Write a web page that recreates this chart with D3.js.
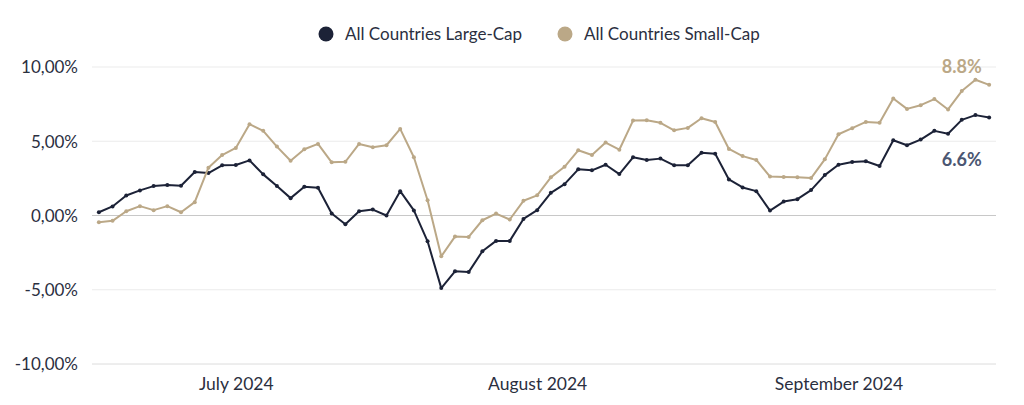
<!DOCTYPE html>
<html>
<head>
<meta charset="utf-8">
<script src="https://cdn.jsdelivr.net/npm/d3@7"></script>
<style>
  body { margin: 0; background: #fff; }
  svg text { font-family: Lato, "Open Sans", sans-serif; }
</style>
</head>
<body>
<div id="chart"></div>
<script>
// business days Jul 1 - Sep 30 2024
var dates = d3.timeDays(new Date(2024, 6, 1), new Date(2024, 9, 1))
    .filter(function(d){ return d.getDay() != 0 && d.getDay() != 6 })

var largeCap = [0.22, 0.61, 1.35, 1.69, 1.98, 2.05, 2.0, 2.93, 2.86, 3.38, 3.4, 3.71, 2.77, 1.98, 1.17, 1.93,
    1.87, 0.13, -0.59, 0.29, 0.4, 0.0, 1.64, 0.34, -1.74, -4.89, -3.76, -3.81, -2.41, -1.71, -1.71, -0.23,
    0.36, 1.53, 2.11, 3.11, 3.04, 3.42, 2.79, 3.92, 3.74, 3.83, 3.38, 3.38, 4.23, 4.16, 2.43, 1.89,
    1.64, 0.33, 0.94, 1.1, 1.71, 2.72, 3.42, 3.6, 3.65, 3.33, 5.07, 4.73, 5.11, 5.7, 5.51, 6.44, 6.76, 6.6]

var smallCap = [-0.45, -0.36, 0.29, 0.63, 0.36, 0.63, 0.22, 0.9, 3.22, 4.07, 4.55, 6.15, 5.7, 4.64, 3.69, 4.46,
    4.82, 3.58, 3.62, 4.82, 4.59, 4.73, 5.83, 3.92, 1.03, -2.75, -1.42, -1.44, -0.32, 0.13, -0.27, 0.99,
    1.36, 2.57, 3.28, 4.39, 4.07, 4.91, 4.43, 6.39, 6.42, 6.24, 5.74, 5.9, 6.55, 6.3, 4.48, 4.0,
    3.74, 2.62, 2.59, 2.57, 2.52, 3.78, 5.47, 5.88, 6.3, 6.24, 7.88, 7.18, 7.43, 7.84, 7.14, 8.38, 9.14, 8.8]

var yTicks = [-10, -5, 0, 5, 10]
var monthLabels = ["July 2024", "August 2024", "September 2024"]
var monthTickIdx = [10, 32, 54]

var series = [
    {name: "All Countries Large-Cap", values: largeCap, color: "#1c2237", labelColor: "#4b5672", label: "6.6%"},
    {name: "All Countries Small-Cap", values: smallCap, color: "#bba887", labelColor: "#bba887", label: "8.8%"}
]

var W = 1024, H = 405
var margin = {top: 67, right: 28, bottom: 41, left: 92}
var width = W - margin.left - margin.right
var height = H - margin.top - margin.bottom

var svg = d3.select("#chart").append("svg")
    .attr("width", W)
    .attr("height", H)

var g = svg.append("g")
    .attr("transform", "translate(" + margin.left + "," + margin.top + ")")

var x = d3.scalePoint()
    .domain(d3.range(dates.length))
    .range([0, width])
    .padding(0.5)

var y = d3.scaleLinear()
    .domain([-10, 10])
    .range([height, 0])

// gridlines
g.selectAll(".grid")
    .data(yTicks)
    .enter()
    .append("line")
    .attr("x1", 0)
    .attr("x2", width)
    .attr("y1", function(d){ return y(d) })
    .attr("y2", function(d){ return y(d) })
    .attr("stroke", function(d){
        if (d == 0) { return "#c8c8c8" }
        else if (d == -10) { return "#dcdcdc" }
        return "#ebebeb"
    })
    .attr("stroke-width", 1)

// y labels (comma decimals, plain hyphen)
var yAxis = d3.axisLeft(y)
    .tickValues(yTicks)
    .tickSize(0)
    .tickPadding(14)
    .tickFormat(function(d){ return d.toFixed(2).replace(".", ",") + "%" })

g.append("g")
    .call(yAxis)
    .call(function(s){ s.select(".domain").remove() })
    .selectAll("text")
    .attr("font-size", 17)
    .attr("fill", "#2b2f3f")
    .attr("dy", "0.35em")

// x labels
var xAxis = d3.axisBottom(x)
    .tickValues(monthTickIdx)
    .tickSize(0)
    .tickPadding(14)
    .tickFormat(function(d, i){ return monthLabels[i] })

g.append("g")
    .attr("transform", "translate(0," + height + ")")
    .call(xAxis)
    .call(function(s){ s.select(".domain").remove() })
    .selectAll("text")
    .attr("font-size", 17.5)
    .attr("fill", "#2b2f3f")

var line = d3.line()
    .x(function(d, i){ return x(i) })
    .y(function(d){ return y(d) })

series.forEach(function(s){
    g.append("path")
        .datum(s.values)
        .attr("d", line)
        .attr("fill", "none")
        .attr("stroke", s.color)
        .attr("stroke-width", 2)
        .attr("stroke-linejoin", "round")

    g.selectAll(".dot")
        .data(s.values)
        .enter()
        .append("circle")
        .attr("cx", function(d, i){ return x(i) })
        .attr("cy", function(d){ return y(d) })
        .attr("r", 2)
        .attr("fill", s.color)
})

// end labels
g.append("text")
    .attr("x", x(63))
    .attr("y", y(9.6))
    .attr("text-anchor", "middle")
    .attr("font-size", 18)
    .attr("font-weight", "bold")
    .attr("fill", series[1].labelColor)
    .text(series[1].label)

g.append("text")
    .attr("x", x(63))
    .attr("y", y(3.3))
    .attr("text-anchor", "middle")
    .attr("font-size", 18)
    .attr("font-weight", "bold")
    .attr("fill", series[0].labelColor)
    .text(series[0].label)

// legend
var legendX = [326, 565]
var legend = svg.selectAll(".legend")
    .data(series)
    .enter()
    .append("g")
    .attr("transform", function(d, i){ return "translate(" + legendX[i] + ",34)" })

legend.append("circle")
    .attr("r", 7.5)
    .attr("fill", function(d){ return d.color })

legend.append("text")
    .attr("x", 19)
    .attr("dy", "0.35em")
    .attr("font-size", 17)
    .attr("fill", "#2b2f3f")
    .text(function(d){ return d.name })
</script>
</body>
</html>
